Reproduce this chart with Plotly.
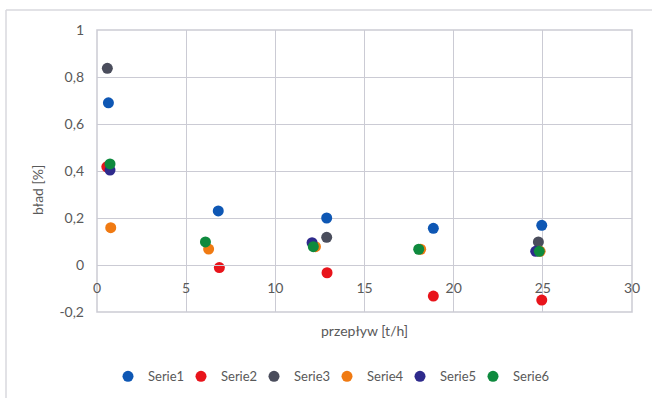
import plotly.graph_objects as go

series_names = ["Serie1", "Serie2", "Serie3", "Serie4", "Serie5", "Serie6"]
colors = ["#0E57B4", "#E8141B", "#4A4D5C", "#F07A12", "#2E2A8C", "#0E8A3E"]

s1_x = [0.64, 6.8, 12.88, 18.86, 24.94]
s1_y = [0.69, 0.23, 0.20, 0.156, 0.169]
s2_x = [0.55, 6.86, 12.9, 18.86, 24.94]
s2_y = [0.418, -0.011, -0.033, -0.132, -0.149]
s3_x = [0.58, 12.88, 24.75]
s3_y = [0.837, 0.118, 0.098]
s4_x = [0.77, 6.26, 12.25, 18.15, 24.85]
s4_y = [0.159, 0.068, 0.078, 0.067, 0.058]
s5_x = [0.73, 12.06, 24.6]
s5_y = [0.404, 0.095, 0.058]
s6_x = [0.73, 6.08, 12.13, 18.04, 24.8]
s6_y = [0.43, 0.098, 0.078, 0.067, 0.058]

xs = [s1_x, s2_x, s3_x, s4_x, s5_x, s6_x]
ys = [s1_y, s2_y, s3_y, s4_y, s5_y, s6_y]

x_ticks = [0, 5, 10, 15, 20, 25, 30]
y_tickvals = [-0.2, 0, 0.2, 0.4, 0.6, 0.8, 1]
y_ticktext = ["-0,2", "0", "0,2", "0,4", "0,6", "0,8", "1"]

x_title = "przepływ [t/h]"
y_title = "bład [%]"

grid = "#CBCBD4"
txt = "#595959"
font = "Lato, 'Open Sans', sans-serif"

W, H = 535, 282  # plot area in px
legend_dot_px = [128, 201, 274, 347, 420, 493]  # legend entry positions (layout)

fig = go.Figure()
legend_ids = ["legend"] + [f"legend{i}" for i in range(2, len(series_names) + 1)]
for lid, name, c, x, y in zip(legend_ids, series_names, colors, xs, ys):
    fig.add_trace(go.Scatter(x=x, y=y, mode="markers", name=name, legend=lid,
                             marker=dict(color=c, size=11, line=dict(width=0))))

ymin, ymax = -0.2, 1.0
zero_frac = (0 - ymin) / (ymax - ymin)

legends = {}
for lid, px in zip(legend_ids, legend_dot_px):
    legends[lid] = dict(orientation="h", xanchor="left", x=(px - 20 - 97) / W,
                        y=-0.175, yanchor="top", bgcolor="rgba(0,0,0,0)",
                        font=dict(size=13, color=txt), itemwidth=30, tracegroupgap=0)

fig.update_layout(
    width=652, height=398,
    margin=dict(l=97, r=20, t=30, b=86, autoexpand=False),
    paper_bgcolor="white", plot_bgcolor="white",
    font=dict(family=font, size=14, color=txt),
    showlegend=True,
    xaxis=dict(range=[0, 30], tickvals=x_ticks, showgrid=True, gridcolor=grid,
               gridwidth=1, zeroline=False, showline=True, linecolor=grid,
               anchor="free", position=zero_frac, ticks="", automargin=False,
               ticklabelstandoff=10, tickfont=dict(size=14, color=txt)),
    yaxis=dict(range=[ymin, ymax], tickvals=y_tickvals, ticktext=y_ticktext,
               showgrid=True, gridcolor=grid, gridwidth=1, zeroline=False,
               showline=False, ticks="", automargin=False, ticklabelstandoff=12,
               tickfont=dict(size=14, color=txt)),
    shapes=[
        dict(type="rect", xref="x domain", yref="y domain", x0=0, x1=1, y0=0, y1=1,
             line=dict(color=grid, width=1.5), fillcolor="rgba(0,0,0,0)", layer="below"),
        dict(type="line", xref="paper", yref="paper", x0=-91/W, x1=-91/W,
             y0=1 + 20/H, y1=-86/H, line=dict(color="#D9D9DE", width=1.5)),
        dict(type="line", xref="paper", yref="paper", x0=-91/W, x1=1 + 20/W,
             y0=1 + 20/H, y1=1 + 20/H, line=dict(color="#D9D9DE", width=1.5)),
    ],
    annotations=[
        dict(text=x_title, xref="paper", yref="paper", x=0.5, y=-0.027,
             xanchor="center", yanchor="top", showarrow=False,
             font=dict(size=14, color=txt)),
        dict(text=y_title, xref="paper", yref="paper", x=(38 - 97) / W, y=(312 - 190) / H,
             xanchor="center", yanchor="middle", textangle=-90, showarrow=False,
             font=dict(size=14, color=txt)),
    ],
    **legends,
)

fig.write_html("out.html", config={"displayModeBar": False},
               post_script="document.body.style.margin='0';")
